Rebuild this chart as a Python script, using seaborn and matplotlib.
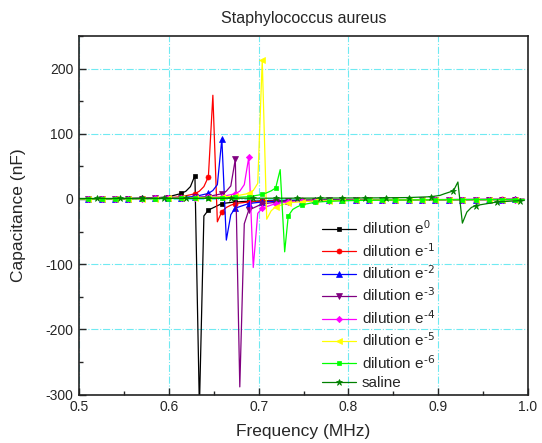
import pandas as pd
import seaborn as sns
import matplotlib.pyplot as plt
from matplotlib.ticker import MultipleLocator

# frequencies (MHz) of the points that carry a marker
grid_f = [0.510, 0.525, 0.540, 0.555, 0.570, 0.584, 0.599, 0.614, 0.629, 0.644, 0.659,
          0.674, 0.689, 0.704, 0.719, 0.733, 0.748, 0.763, 0.778, 0.793, 0.808, 0.823,
          0.837, 0.852, 0.867, 0.882, 0.897, 0.912, 0.927, 0.942, 0.957, 0.971, 0.986]
saline_grid_f = [0.520, 0.545, 0.570, 0.595, 0.619, 0.644, 0.669, 0.694, 0.719, 0.743,
                 0.768, 0.793, 0.818, 0.842, 0.867, 0.892, 0.917, 0.942, 0.966, 0.991]

# capacitance (nF) at the marker points
e0_c = [0.3, 0.4, 0.6, 0.8, 1.1, 1.6, 3.2, 8.5, 36, -17, -7, -4.5, -3.5, -3, -2.6, -2.3, -2,
        -1.8, -1.7, -1.5, -1.4, -1.3, -1.2, -1.1, -1, -1, -0.9, -0.9, -0.8, -0.8, -0.7, -0.7, -0.7]
e1_c = [0.3, 0.4, 0.5, 0.7, 0.9, 1.2, 1.8, 3.5, 8, 34, -19.5, -7, -4.5, -3.5, -3, -2.6, -2.3,
        -2, -1.8, -1.7, -1.5, -1.4, -1.3, -1.2, -1.1, -1, -1, -0.9, -0.9, -0.8, -0.8, -0.7, -0.7]
e2_c = [0.2, 0.3, 0.4, 0.6, 0.8, 1.0, 1.4, 2.2, 3.8, 8.5, 92, -14, -7, -4.5, -3.5, -3, -2.6,
        -2.3, -2, -1.8, -1.6, -1.5, -1.4, -1.3, -1.2, -1.1, -1, -1, -0.9, -0.9, -0.8, -0.8, -0.7]
e3_c = [0.2, 0.3, 0.4, 0.5, 0.7, 0.9, 1.2, 1.7, 2.4, 3.8, 8, 61, -17, -7.5, -5, -3.8, -3.2,
        -2.7, -2.3, -2, -1.8, -1.6, -1.5, -1.4, -1.3, -1.2, -1.1, -1, -1, -0.9, -0.9, -0.8, -0.8]
e4_c = [0.2, 0.3, 0.4, 0.5, 0.6, 0.8, 1.0, 1.4, 1.9, 2.5, 3.8, 8, 64, -14, -7, -4.5, -3.5,
        -3, -2.6, -2.3, -2, -1.8, -1.6, -1.5, -1.4, -1.3, -1.2, -1.1, -1, -1, -0.9, -0.9, -0.8]
e5_c = [0.2, 0.3, 0.4, 0.5, 0.6, 0.7, 0.9, 1.2, 1.6, 2.2, 3.0, 4.5, 8.5, 213, -12, -6, -4,
        -3.2, -2.7, -2.3, -2, -1.8, -1.6, -1.5, -1.4, -1.3, -1.2, -1.1, -1, -1, -0.9, -0.9, -0.8]
e6_c = [0.2, 0.3, 0.3, 0.4, 0.5, 0.6, 0.7, 0.9, 1.1, 1.4, 1.8, 2.4, 3.5, 7, 17, -26, -9, -5,
        -3.5, -2.8, -2.3, -2, -1.8, -1.6, -1.5, -1.4, -1.3, -1.2, -1.1, -1, -1, -0.9, -0.9]
saline_c = [0.8, 0.8, 0.9, 0.9, 1.0, 1.0, 1.1, 1.2, 1.2, 1.3, 1.4, 1.5, 1.6, 1.8, 2.2, 3.5,
            12.5, -10, -4.5, -2.5]

# points between markers (around each resonance and the ends)
e0_xf = [0.500, 0.619, 0.624, 0.634, 0.639, 0.996]
e0_xc = [0.3, 12, 19, -320, -26, -0.7]
e1_xf = [0.500, 0.634, 0.639, 0.649, 0.654, 0.664, 0.669, 0.996]
e1_xc = [0.3, 12, 19, 159, -35, -13, -9.5, -0.7]
e2_xf = [0.500, 0.649, 0.654, 0.664, 0.669, 0.996]
e2_xc = [0.2, 13, 22, -63, -24, -0.7]
e3_xf = [0.500, 0.664, 0.669, 0.679, 0.684, 0.996]
e3_xc = [0.2, 12, 20, -288, -38, -0.8]
e4_xf = [0.500, 0.679, 0.684, 0.694, 0.699, 0.996]
e4_xc = [0.2, 12, 22, -105, -22, -0.8]
e5_xf = [0.500, 0.694, 0.699, 0.709, 0.714, 0.996]
e5_xc = [0.2, 13, 24, -31, -18, -0.8]
e6_xf = [0.500, 0.709, 0.714, 0.724, 0.729, 0.738, 0.743, 0.996]
e6_xc = [0.2, 9.5, 12.5, 45, -81, -16, -12, -0.9]
saline_xf = [0.500, 0.902, 0.907, 0.922, 0.927, 0.932, 0.937, 0.996]
saline_xc = [0.8, 5.5, 8, 26, -37, -20, -13, -2.3]

labels = ['dilution e$^{0}$', 'dilution e$^{\\text{-1}}$', 'dilution e$^{\\text{-2}}$',
          'dilution e$^{\\text{-3}}$', 'dilution e$^{\\text{-4}}$', 'dilution e$^{\\text{-5}}$',
          'dilution e$^{\\text{-6}}$', 'saline']

sns.set_style('ticks')
plt.rcParams['font.family'] = ['Liberation Sans', 'DejaVu Sans']
plt.rcParams['mathtext.default'] = 'regular'
plt.rcParams['axes.unicode_minus'] = False

series = [
    (grid_f, e0_c, e0_xf, e0_xc, 'black', 's', 3.4),
    (grid_f, e1_c, e1_xf, e1_xc, '#ff0000', 'o', 3.6),
    (grid_f, e2_c, e2_xf, e2_xc, '#0000ff', '^', 4.0),
    (grid_f, e3_c, e3_xf, e3_xc, '#800080', 'v', 4.0),
    (grid_f, e4_c, e4_xf, e4_xc, '#ff00ff', 'D', 3.2),
    (grid_f, e5_c, e5_xf, e5_xc, '#ffff00', '<', 4.0),
    (grid_f, e6_c, e6_xf, e6_xc, '#00ff00', 's', 3.4),
    (saline_grid_f, saline_c, saline_xf, saline_xc, '#008000', '*', 4.8),
]

fig = plt.figure(figsize=(5.42, 4.43), dpi=100)
ax = fig.add_axes([0.146, 0.109, 0.828, 0.810])

for (gf, gc, xf, xc, col, mk, ms), lab in zip(series, labels):
    df = pd.DataFrame({'f': gf + xf, 'c': gc + xc,
                       'mark': [True] * len(gf) + [False] * len(xf)})
    df = df.sort_values('f').reset_index(drop=True)
    idx = list(df.index[df['mark']])
    sns.lineplot(data=df, x='f', y='c', ax=ax, color=col, linewidth=0.9,
                 marker=mk, markersize=ms, markevery=idx, markeredgecolor=col,
                 markeredgewidth=0.5, estimator=None, sort=False, label=lab)

ax.set_xlim(0.5, 1.0)
ax.set_ylim(-300, 250)
ax.xaxis.set_major_locator(MultipleLocator(0.1))
ax.xaxis.set_minor_locator(MultipleLocator(0.05))
ax.yaxis.set_major_locator(MultipleLocator(100))
ax.yaxis.set_minor_locator(MultipleLocator(50))
ax.set_yticks([-300, -200, -100, 0, 100, 200])
ax.tick_params(which='major', direction='in', length=5, width=1, labelsize=10, pad=4)
ax.tick_params(which='minor', direction='in', length=3, width=1)
ax.grid(True, which='major', color='#70eaf2', linestyle='-.', linewidth=0.8)
ax.set_axisbelow(True)
for s in ax.spines.values():
    s.set_visible(True)
    s.set_linewidth(1.2)
    s.set_color('#222222')

ax.set_xlabel('Frequency (MHz)', fontsize=12.5, labelpad=7)
ax.set_ylabel('Capacitance (nF)', fontsize=12.5, labelpad=14)
ax.set_title('Staphylococcus aureus', fontsize=11.5, pad=9)

ax.legend(loc='upper left', bbox_to_anchor=(0.541, 0.491), frameon=False, fontsize=11,
          handlelength=2.2, handletextpad=0.4, labelspacing=0.29, borderpad=0,
          borderaxespad=0)

fig.savefig('out.png', dpi=100)
